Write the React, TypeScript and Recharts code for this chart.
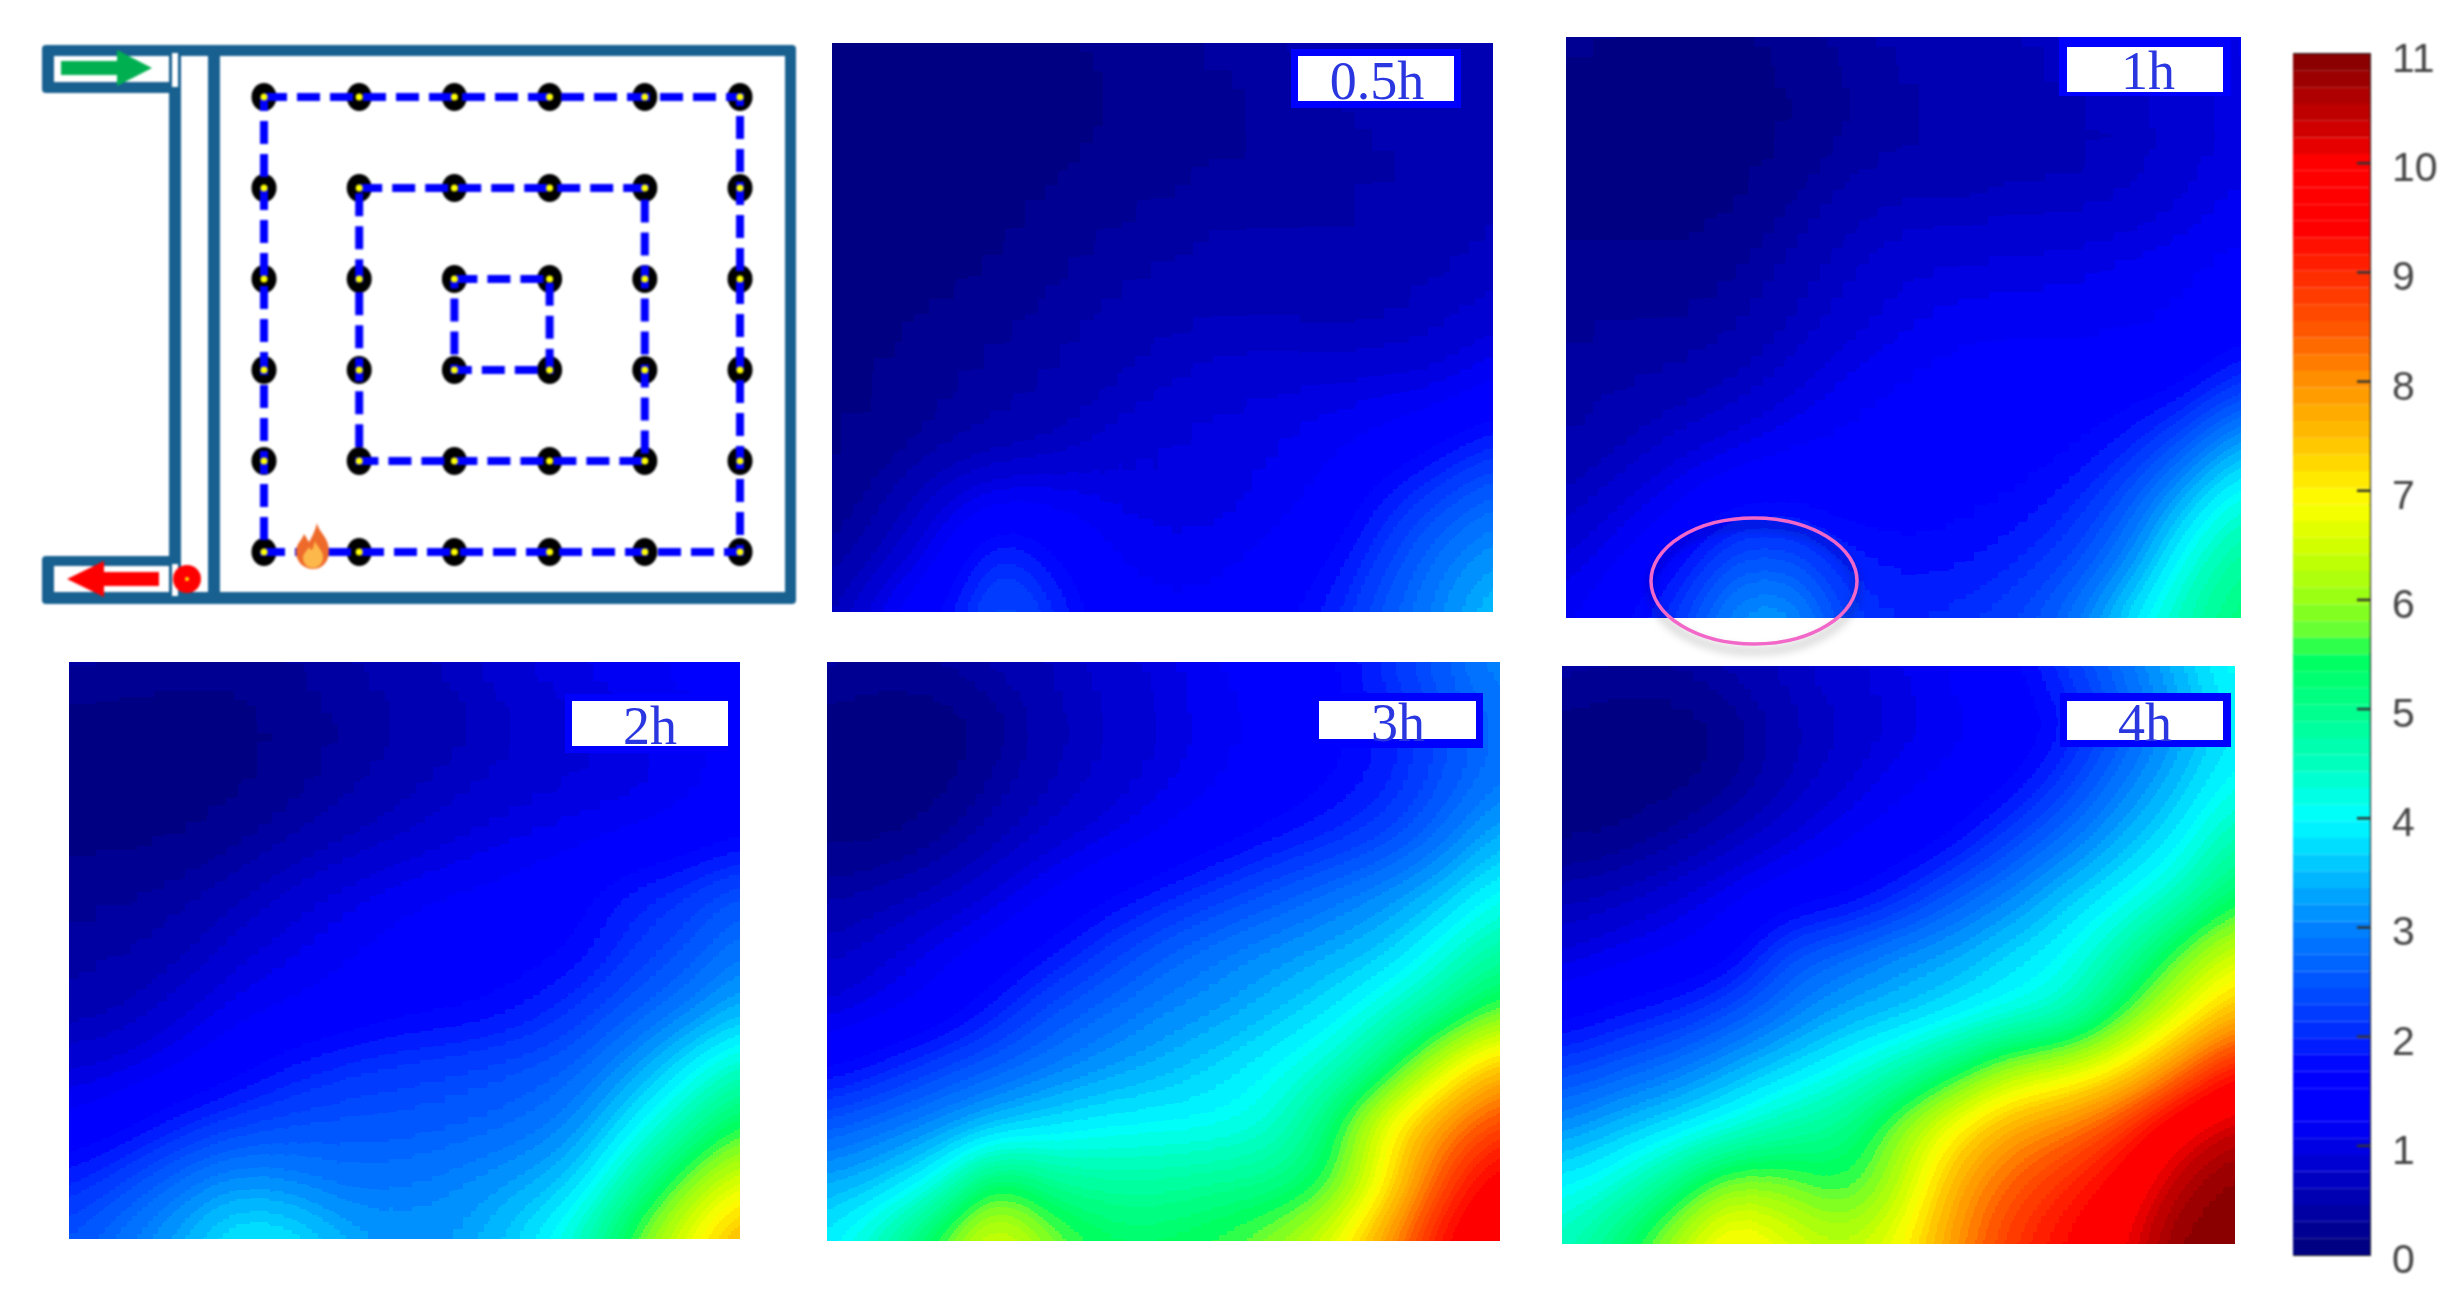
import {
  Bar,
  BarChart,
  ReferenceArea,
  ReferenceDot,
  Scatter,
  ScatterChart,
  XAxis,
  YAxis,
} from "recharts"

// temperature rise, rows top to bottom, 13 columns left to right
const grid05h = [
  [0.05, 0.05, 0.05, 0.05, 0.1, 0.22, 0.28, 0.35, 0.42, 0.5, 0.55, 0.6, 0.6],
  [0.05, 0.05, 0.05, 0.05, 0.06, 0.14, 0.25, 0.3, 0.35, 0.43, 0.5, 0.55, 0.62],
  [0.05, 0.05, 0.05, 0.05, 0.1, 0.2, 0.28, 0.3, 0.33, 0.37, 0.42, 0.52, 0.6],
  [0.05, 0.05, 0.05, 0.1, 0.2, 0.3, 0.36, 0.41, 0.42, 0.43, 0.48, 0.55, 0.62],
  [0.05, 0.05, 0.1, 0.18, 0.3, 0.4, 0.46, 0.5, 0.52, 0.52, 0.54, 0.6, 0.7],
  [0.05, 0.12, 0.22, 0.32, 0.4, 0.52, 0.62, 0.66, 0.63, 0.6, 0.6, 0.72, 0.9],
  [0.08, 0.16, 0.3, 0.37, 0.46, 0.6, 0.75, 0.85, 0.9, 0.93, 1.0, 1.0, 1.25],
  [0.12, 0.2, 0.38, 0.52, 0.62, 0.82, 0.95, 1.0, 1.05, 1.15, 1.3, 1.6, 2.0],
  [0.18, 0.42, 0.85, 1.15, 1.15, 1.05, 0.95, 0.95, 1.12, 1.3, 1.85, 2.3, 2.7],
  [0.3, 0.7, 1.2, 2.2, 1.7, 1.25, 1.1, 1.15, 1.3, 1.6, 2.2, 2.8, 3.2],
  [0.55, 1.2, 1.7, 2.6, 2.1, 1.4, 1.3, 1.3, 1.5, 1.9, 2.5, 3.0, 3.6],
]

const grid1h = [
  [0.25, 0.15, 0.1, 0.1, 0.25, 0.38, 0.5, 0.55, 0.6, 0.75, 0.85, 1.0, 1.1],
  [0.05, 0.05, 0.05, 0.05, 0.12, 0.32, 0.42, 0.5, 0.55, 0.6, 0.7, 0.85, 1.0],
  [0.05, 0.05, 0.05, 0.08, 0.18, 0.38, 0.42, 0.45, 0.52, 0.55, 0.65, 0.85, 1.0],
  [0.08, 0.08, 0.08, 0.15, 0.35, 0.55, 0.7, 0.7, 0.75, 0.75, 0.8, 0.95, 1.15],
  [0.2, 0.2, 0.22, 0.32, 0.5, 0.75, 0.9, 0.95, 1.0, 1.05, 1.1, 1.2, 1.35],
  [0.3, 0.33, 0.36, 0.42, 0.65, 0.85, 1.05, 1.15, 1.15, 1.15, 1.2, 1.25, 1.45],
  [0.38, 0.42, 0.5, 0.65, 0.85, 1.1, 1.25, 1.4, 1.45, 1.45, 1.45, 1.6, 2.2],
  [0.45, 0.6, 0.8, 1.0, 1.2, 1.3, 1.4, 1.5, 1.5, 1.6, 1.9, 2.5, 3.4],
  [0.65, 0.9, 1.2, 1.6, 1.65, 1.45, 1.5, 1.6, 1.7, 1.95, 2.5, 3.5, 4.3],
  [0.9, 1.25, 1.7, 2.5, 2.5, 1.9, 1.75, 1.75, 2.0, 2.3, 3.0, 4.2, 4.9],
  [1.15, 1.6, 2.2, 3.2, 3.3, 2.2, 2.0, 2.1, 2.3, 2.8, 3.8, 4.6, 5.2],
]

const grid2h = [
  [0.45, 0.3, 0.25, 0.25, 0.35, 0.45, 0.6, 0.7, 0.95, 1.05, 1.2, 1.3, 1.4],
  [0.06, 0.03, 0.03, 0.06, 0.2, 0.35, 0.45, 0.55, 0.75, 0.9, 1.0, 1.15, 1.35],
  [0.06, 0.03, 0.03, 0.08, 0.26, 0.4, 0.55, 0.68, 0.8, 0.9, 0.95, 1.1, 1.35],
  [0.1, 0.1, 0.14, 0.28, 0.42, 0.6, 0.75, 0.9, 1.05, 1.1, 1.25, 1.4, 1.6],
  [0.28, 0.32, 0.4, 0.55, 0.8, 1.0, 1.15, 1.25, 1.35, 1.5, 1.9, 2.1, 2.5],
  [0.38, 0.45, 0.55, 0.85, 1.05, 1.2, 1.35, 1.45, 1.5, 1.65, 2.1, 2.4, 2.9],
  [0.5, 0.6, 0.85, 1.1, 1.25, 1.4, 1.55, 1.6, 1.75, 2.1, 2.5, 2.9, 3.4],
  [0.85, 1.0, 1.2, 1.5, 1.85, 2.05, 2.2, 2.3, 2.4, 2.6, 3.1, 3.8, 4.5],
  [1.3, 1.55, 1.95, 2.25, 2.4, 2.5, 2.5, 2.6, 2.7, 3.0, 3.8, 4.6, 5.5],
  [1.95, 2.35, 2.8, 3.2, 3.0, 2.8, 2.9, 3.0, 3.25, 3.6, 4.6, 5.8, 6.7],
  [2.45, 2.9, 3.35, 3.95, 3.9, 3.35, 3.15, 3.25, 3.65, 4.3, 5.6, 6.7, 7.8],
]

const grid3h = [
  [0.4, 0.3, 0.35, 0.5, 0.65, 0.85, 1.0, 1.25, 1.35, 1.6, 2.1, 2.6, 3.1],
  [0.05, 0.02, 0.02, 0.22, 0.55, 0.75, 0.9, 1.15, 1.35, 1.55, 1.9, 2.4, 2.8],
  [0.05, 0.02, 0.06, 0.33, 0.6, 0.8, 1.0, 1.2, 1.4, 1.65, 1.9, 2.4, 2.9],
  [0.08, 0.1, 0.28, 0.55, 0.8, 1.0, 1.25, 1.5, 1.75, 2.0, 2.3, 2.8, 3.4],
  [0.4, 0.5, 0.7, 0.95, 1.25, 1.6, 1.9, 2.2, 2.5, 2.8, 3.1, 3.5, 4.1],
  [0.7, 0.85, 1.1, 1.4, 1.75, 2.2, 2.6, 2.9, 3.1, 3.3, 3.6, 4.2, 4.8],
  [0.9, 1.1, 1.4, 1.9, 2.4, 2.7, 3.0, 3.2, 3.5, 3.8, 4.3, 4.9, 5.7],
  [1.6, 1.9, 2.3, 2.6, 2.9, 3.2, 3.4, 3.7, 4.0, 4.4, 5.2, 6.6, 7.6],
  [2.5, 2.8, 3.1, 3.5, 3.8, 3.95, 4.0, 4.05, 4.3, 5.3, 6.9, 8.0, 8.8],
  [3.3, 3.6, 4.2, 5.6, 4.9, 4.8, 4.8, 4.9, 5.0, 5.5, 7.0, 8.7, 9.7],
  [3.9, 4.6, 5.7, 6.9, 5.9, 5.4, 5.4, 5.6, 6.0, 6.7, 8.0, 9.4, 10.2],
]

const grid4h = [
  [0.45, 0.35, 0.35, 0.5, 0.7, 0.9, 1.05, 1.3, 1.55, 2.2, 2.8, 3.5, 4.2],
  [0.05, 0.02, 0.02, 0.18, 0.55, 0.75, 0.95, 1.15, 1.35, 1.75, 2.5, 3.2, 3.9],
  [0.05, 0.02, 0.06, 0.28, 0.6, 0.85, 1.15, 1.3, 1.6, 2.2, 2.9, 3.5, 4.1],
  [0.1, 0.16, 0.4, 0.65, 0.9, 1.2, 1.4, 1.7, 2.3, 2.8, 3.4, 3.9, 4.7],
  [0.55, 0.7, 0.9, 1.15, 1.45, 1.6, 2.0, 2.6, 3.0, 3.6, 3.95, 4.5, 5.4],
  [0.9, 1.1, 1.25, 1.5, 2.4, 2.7, 3.1, 3.3, 3.7, 4.0, 4.7, 5.7, 6.6],
  [1.5, 1.75, 2.0, 2.4, 2.9, 3.3, 3.5, 3.8, 4.1, 4.4, 5.5, 6.6, 7.6],
  [2.3, 2.6, 2.9, 3.3, 3.7, 4.1, 4.6, 5.3, 6.2, 6.5, 7.1, 8.2, 9.3],
  [3.1, 3.5, 3.8, 4.2, 4.7, 5.0, 5.9, 7.0, 7.8, 8.2, 8.9, 9.9, 10.5],
  [3.95, 4.3, 5.1, 6.1, 5.9, 5.4, 6.2, 7.7, 8.5, 9.0, 9.6, 10.6, 11],
  [4.5, 5.2, 6.2, 7.3, 6.7, 6.3, 6.8, 8.0, 8.9, 9.4, 10, 11, 11],
]

const colorbarTicks = [0, 1, 2, 3, 4, 5, 6, 7, 8, 9, 10, 11]

// value, r, g, b
const colorStops = [
  [0, 0, 0, 122],
  [1.25, 0, 0, 255],
  [1.7, 0, 0, 255],
  [2, 0, 40, 255],
  [3, 0, 130, 255],
  [3.5, 0, 190, 255],
  [4, 0, 255, 255],
  [4.5, 0, 255, 190],
  [5.5, 0, 255, 90],
  [5.65, 90, 255, 60],
  [6, 150, 255, 20],
  [6.5, 210, 255, 0],
  [6.9, 255, 255, 0],
  [7.5, 255, 190, 0],
  [8, 255, 145, 0],
  [8.5, 255, 85, 0],
  [9, 255, 40, 0],
  [9.4, 255, 0, 0],
  [10, 255, 0, 0],
  [10.3, 210, 0, 0],
  [11, 130, 0, 0],
]

const MAX_VALUE = 11
const BAND_COUNT = 72
const BLUR = 28
const PAD = 90

function colorAt(v: number) {
  for (let i = 1; i < colorStops.length; i++) {
    const a = colorStops[i - 1]
    const b = colorStops[i]
    if (v <= b[0]) {
      const t = (v - a[0]) / (b[0] - a[0])
      return [a[1] + (b[1] - a[1]) * t, a[2] + (b[2] - a[2]) * t, a[3] + (b[3] - a[3]) * t]
    }
  }
  return colorStops[colorStops.length - 1].slice(1)
}

const bandColors = Array.from({ length: BAND_COUNT }, (_, k) =>
  colorAt(((k + 0.5) / BAND_COUNT) * MAX_VALUE),
)
const tableFor = (channel: number) =>
  bandColors.map((c) => (c[channel] / 255).toFixed(3)).join(" ")

const colorbarRow: Record<string, number | string> = { name: "bar" }
bandColors.forEach((_, k) => {
  colorbarRow["b" + k] = MAX_VALUE / BAND_COUNT
})

function HeatPanel({ grid, left, top, right, bottom }: any) {
  const w = right - left
  const h = bottom - top
  const cols = grid[0].length
  const rows = grid.length
  const cellW = w / (cols - 1)
  const cellH = h / (rows - 1)
  const cells = grid.flatMap((row: number[], r: number) =>
    row.map((v, c) => ({ c, r, v })),
  )

  const renderCell = (props: any) => {
    const { cx, cy, payload } = props
    const { c, r, v } = payload
    const g = Math.round((v / MAX_VALUE) * 255)
    const x0 = c === 0 ? cx - PAD : cx - cellW / 2
    const x1 = c === cols - 1 ? cx + PAD : cx + cellW / 2 + 1
    const y0 = r === 0 ? cy - PAD : cy - cellH / 2
    const y1 = r === rows - 1 ? cy + PAD : cy + cellH / 2 + 1
    return <rect x={x0} y={y0} width={x1 - x0} height={y1 - y0} fill={`rgb(${g},${g},${g})`} />
  }

  return (
    <div style={{ position: "absolute", left, top, width: w, height: h, overflow: "hidden" }}>
      <div
        style={{
          position: "absolute",
          left: -PAD,
          top: -PAD,
          width: w + 2 * PAD,
          height: h + 2 * PAD,
          filter: "url(#jetBands)",
        }}
      >
        <ScatterChart
          width={w + 2 * PAD}
          height={h + 2 * PAD}
          margin={{ top: PAD, right: PAD, bottom: PAD, left: PAD }}
        >
          <XAxis type="number" dataKey="c" domain={[0, cols - 1]} hide />
          <YAxis type="number" dataKey="r" domain={[0, rows - 1]} reversed hide />
          <Scatter data={cells} shape={renderCell} isAnimationActive={false} />
        </ScatterChart>
      </div>
    </div>
  )
}

// sensor layout, in grid steps
const outerRing = [
  [0, 0], [1, 0], [2, 0], [3, 0], [4, 0], [5, 0], [5, 1], [5, 2], [5, 3], [5, 4],
  [5, 5], [4, 5], [3, 5], [2, 5], [1, 5], [0, 5], [0, 4], [0, 3], [0, 2], [0, 1], [0, 0],
]
const middleRing = [
  [1, 1], [2, 1], [3, 1], [4, 1], [4, 2], [4, 3], [4, 4], [3, 4], [2, 4], [1, 4], [1, 3], [1, 2], [1, 1],
]
const innerRing = [[2, 2], [3, 2], [3, 3], [2, 3], [2, 2]]
const toPoints = (list: number[][]) => list.map(([x, y]) => ({ x, y }))
const sensors = toPoints([...outerRing.slice(0, -1), ...middleRing.slice(0, -1), ...innerRing.slice(0, -1)])

// building plan in page pixels
const X0 = 264
const X5 = 740
const Y0 = 97
const Y5 = 552
const PLAN_W = 820
const PLAN_H = 640
const gx = (px: number) => ((px - X0) / (X5 - X0)) * 5
const gy = (py: number) => ((py - Y0) / (Y5 - Y0)) * 5
const WALL = "#17608f"

const wallBlocks = [
  [169, 45, 796, 604],
  [42, 45, 181, 93],
  [42, 556, 181, 604],
]
const whiteBlocks = [
  [220, 56, 785, 592],
  [181, 56, 208, 592],
  [54, 56, 169, 82],
  [54, 566, 169, 592],
  [172, 53, 178, 87],
  [172, 564, 178, 596],
]

const blackDot = ({ cx, cy }: any) => <ellipse cx={cx} cy={cy} rx={12.5} ry={14} fill="#000" />
const yellowDot = ({ cx, cy }: any) => <circle cx={cx} cy={cy} r={3.5} fill="#ffff00" />
const noDot = () => <g />

const rightArrow = ({ cx, cy }: any) => (
  <path
    d={`M${cx - 45} ${cy - 7}H${cx + 11}V${cy - 18}L${cx + 46} ${cy}L${cx + 11} ${cy + 18}V${cy + 7}H${cx - 45}Z`}
    fill="#00b050"
  />
)
const leftArrow = ({ cx, cy }: any) => (
  <path
    d={`M${cx + 46} ${cy - 7}H${cx - 9}V${cy - 18}L${cx - 46} ${cy}L${cx - 9} ${cy + 18}V${cy + 7}H${cx + 46}Z`}
    fill="#ff0000"
  />
)
const outletDot = ({ cx, cy }: any) => (
  <g>
    <ellipse cx={cx} cy={cy} rx={14} ry={14} fill="#ff0000" />
    <circle cx={cx} cy={cy} r={2} fill="#ffee00" />
  </g>
)
const flame = ({ cx, cy }: any) => (
  <g transform={`translate(${cx} ${cy})`}>
    <path
      d="M4 -24C6 -14 16 -10 16 4C16 16 8 22 0 22C-10 22 -17 14 -17 5C-17 -3 -11 -7 -9 -13C-6 -9 -5 -6 -4 -5C-1 -10 2 -16 4 -24Z"
      fill="#ee6a2a"
    />
    <path
      d="M2 -6C4 0 10 3 10 10C10 17 5 21 0 21C-6 21 -10 16 -10 11C-10 6 -6 4 -4 0C-3 2 -2 3 -1 3C0 1 1 -2 2 -6Z"
      fill="#fcb84a"
    />
  </g>
)

function Plan() {
  const area = (b: number[], fill: string, key: string, radius = 0) => (
    <ReferenceArea
      key={key}
      x1={gx(b[0])}
      x2={gx(b[2])}
      y1={gy(b[1])}
      y2={gy(b[3])}
      fill={fill}
      fillOpacity={1}
      stroke="none"
      radius={radius}
    />
  )
  const dash = { stroke: "#0000ff", strokeWidth: 8, strokeDasharray: "23 10" }
  return (
    <div style={{ position: "absolute", left: 0, top: 0, filter: "blur(0.8px)" }}>
      <ScatterChart width={PLAN_W} height={PLAN_H} margin={{ top: 0, left: 0, right: 0, bottom: 0 }}>
        <XAxis type="number" dataKey="x" domain={[gx(0), gx(PLAN_W)]} hide />
        <YAxis type="number" dataKey="y" domain={[gy(0), gy(PLAN_H)]} reversed hide />
        {wallBlocks.map((b, i) => area(b, WALL, "w" + i, 4))}
        {whiteBlocks.map((b, i) => area(b, "#ffffff", "k" + i))}
        <Scatter data={sensors} shape={blackDot} isAnimationActive={false} />
        <Scatter data={toPoints(outerRing)} line={dash} lineType="joint" shape={noDot} isAnimationActive={false} />
        <Scatter data={toPoints(middleRing)} line={dash} lineType="joint" shape={noDot} isAnimationActive={false} />
        <Scatter data={toPoints(innerRing)} line={dash} lineType="joint" shape={noDot} isAnimationActive={false} />
        <Scatter data={sensors} shape={yellowDot} isAnimationActive={false} />
        <Scatter data={[{ x: gx(106), y: gy(68) }]} shape={rightArrow} isAnimationActive={false} />
        <Scatter data={[{ x: gx(113), y: gy(579) }]} shape={leftArrow} isAnimationActive={false} />
        <Scatter data={[{ x: gx(187), y: gy(579) }]} shape={outletDot} isAnimationActive={false} />
        <Scatter data={[{ x: gx(313), y: gy(547) }]} shape={flame} isAnimationActive={false} />
      </ScatterChart>
    </div>
  )
}

const renderBarTick = ({ x, y, payload }: any) => {
  const v = payload.value
  return (
    <g>
      {v > 0 && v < 11 && <line x1={x - 13} x2={x} y1={y} y2={y} stroke="#333" strokeWidth={2.5} />}
      <text x={x + 22} y={y + 18} fontFamily="Liberation Sans" fontSize={41} fill="#444">
        {v}
      </text>
    </g>
  )
}

function Colorbar() {
  return (
    <div style={{ position: "absolute", left: 2293, top: 24, filter: "blur(0.8px)" }}>
      <BarChart
        width={169}
        height={1261}
        data={[colorbarRow]}
        barCategoryGap={0}
        margin={{ top: 30, right: 0, bottom: 30, left: 0 }}
      >
        <XAxis dataKey="name" hide />
        <YAxis
          orientation="right"
          width={92}
          type="number"
          domain={[0, MAX_VALUE]}
          ticks={colorbarTicks}
          interval={0}
          tickLine={false}
          axisLine={false}
          tickSize={0}
          tickMargin={0}
          tick={renderBarTick}
        />
        {bandColors.map((c, k) => (
          <Bar
            key={k}
            dataKey={"b" + k}
            stackId="bar"
            fill={`rgb(${Math.round(c[0])},${Math.round(c[1])},${Math.round(c[2])})`}
            isAnimationActive={false}
          />
        ))}
        <ReferenceArea y1={0} y2={MAX_VALUE} fill="none" stroke="#222" strokeWidth={2} />
      </BarChart>
    </div>
  )
}

// time stamps on the panels, page pixels: outer box, white box, text centre
const stampTexts = ["0.5h", "1h", "2h", "3h", "4h"]
const stampBoxes = [
  { outer: [1291, 49, 1461, 108], inner: [1298, 56, 1454, 101], at: [1377, 80] },
  { outer: [2059, 37, 2231, 96], inner: [2067, 47, 2223, 92], at: [2148, 70] },
  { outer: [565, 694, 736, 753], inner: [572, 701, 728, 746], at: [650, 725] },
  { outer: [1312, 693, 1483, 748], inner: [1319, 701, 1476, 739], at: [1398, 722] },
  { outer: [2060, 693, 2231, 747], inner: [2067, 701, 2223, 740], at: [2145, 722] },
]

const ringOutline = ({ cx, cy }: any) => (
  <ellipse
    cx={cx}
    cy={cy}
    rx={103}
    ry={63}
    fill="none"
    stroke="#f268c8"
    strokeWidth={3.5}
    style={{ filter: "drop-shadow(0 7px 5px rgba(0,0,0,0.35))" }}
  />
)

function Overlay() {
  return (
    <div style={{ position: "absolute", left: 0, top: 0 }}>
      <ScatterChart width={2462} height={1302} margin={{ top: 0, right: 0, bottom: 0, left: 0 }}>
        <XAxis type="number" dataKey="x" domain={[0, 2462]} hide />
        <YAxis type="number" dataKey="y" domain={[0, 1302]} reversed hide />
        {stampBoxes.flatMap((s, i) => [
          <ReferenceArea
            key={"o" + i}
            x1={s.outer[0]}
            y1={s.outer[1]}
            x2={s.outer[2]}
            y2={s.outer[3]}
            fill="#0000ff"
            fillOpacity={1}
            stroke="none"
          />,
          <ReferenceArea
            key={"i" + i}
            x1={s.inner[0]}
            y1={s.inner[1]}
            x2={s.inner[2]}
            y2={s.inner[3]}
            fill="#ffffff"
            fillOpacity={1}
            stroke="none"
          />,
        ])}
        {stampBoxes.map((s, i) => (
          <ReferenceDot
            key={"t" + i}
            x={s.at[0]}
            y={s.at[1]}
            r={0}
            fill="none"
            stroke="none"
            label={{
              value: stampTexts[i],
              position: "center",
              fontFamily: "Liberation Serif",
              fontSize: 54,
              fill: "#2a36e0",
            }}
          />
        ))}
        <Scatter data={[{ x: 1754, y: 581 }]} shape={ringOutline} isAnimationActive={false} />
      </ScatterChart>
    </div>
  )
}

export default function App() {
  return (
    <div
      style={{
        position: "absolute",
        left: 0,
        top: 0,
        width: 2462,
        height: 1302,
        background: "#fff",
        overflow: "hidden",
      }}
    >
      <svg width={0} height={0} style={{ position: "absolute" }}>
        <filter id="jetBands" x="0" y="0" width="1" height="1" colorInterpolationFilters="sRGB">
          <feGaussianBlur stdDeviation={BLUR} />
          <feComponentTransfer>
            <feFuncR type="discrete" tableValues={tableFor(0)} />
            <feFuncG type="discrete" tableValues={tableFor(1)} />
            <feFuncB type="discrete" tableValues={tableFor(2)} />
          </feComponentTransfer>
        </filter>
      </svg>
      <Plan />
      <HeatPanel grid={grid05h} left={832} top={43} right={1493} bottom={612} />
      <HeatPanel grid={grid1h} left={1566} top={37} right={2241} bottom={618} />
      <HeatPanel grid={grid2h} left={69} top={662} right={740} bottom={1239} />
      <HeatPanel grid={grid3h} left={827} top={662} right={1500} bottom={1241} />
      <HeatPanel grid={grid4h} left={1562} top={666} right={2235} bottom={1244} />
      <Colorbar />
      <Overlay />
    </div>
  )
}
